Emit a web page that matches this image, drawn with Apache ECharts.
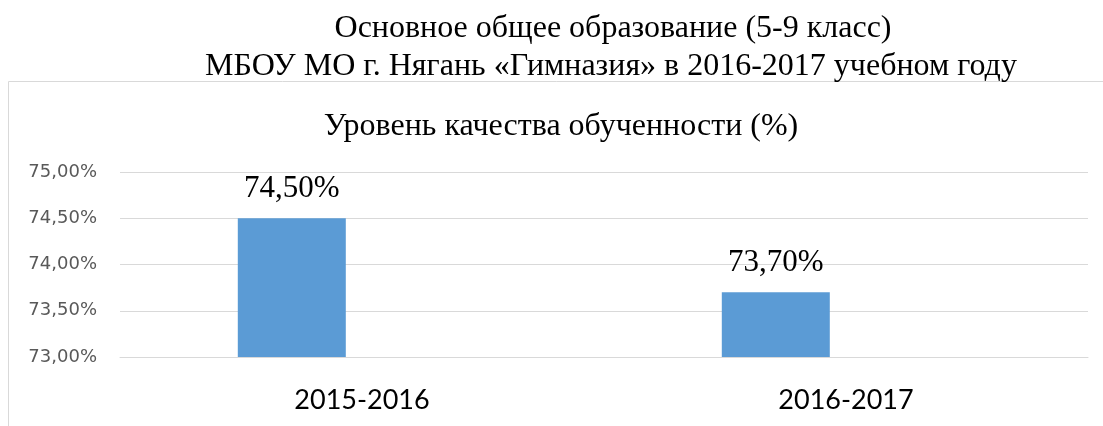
<!DOCTYPE html>
<html>
<head>
<meta charset="utf-8">
<script src="https://cdn.jsdelivr.net/npm/echarts@6/dist/echarts.min.js"></script>
<style>
  html, body { margin: 0; padding: 0; background: #fff; }
  #main { width: 1103px; height: 426px; }
</style>
</head>
<body>
<div id="main"></div>
<script>
var years = ['2015-2016', '2016-2017'];
var quality = [74.5, 73.7];
var emptySeries = [null, null];
var yTicks = {min: 73, max: 75, step: 0.5};

function pct(v) {
    return v.toFixed(2).replace('.', ',') + '%';
}

var chart = echarts.init(document.getElementById('main'));
var serif = '"Liberation Serif", "Times New Roman", serif';

var option = {
    animation: false,
    graphic: [{
        type: 'rect',
        shape: {x: 8.5, y: 81.5, width: 1200, height: 500},
        style: {fill: 'none', stroke: '#d9d9d9', lineWidth: 1},
        z: -1
    }],
    title: [
        {
            text: 'Основное общее образование (5-9 класс)',
            left: 608, top: 5, textAlign: 'center',
            textStyle: {fontFamily: serif, fontSize: 32, fontWeight: 'normal', color: '#000', lineHeight: 38}
        },
        {
            text: 'МБОУ МО г. Нягань «Гимназия» в 2016-2017 учебном году',
            left: 606, top: 43, textAlign: 'center',
            textStyle: {fontFamily: serif, fontSize: 32, fontWeight: 'normal', color: '#000', lineHeight: 38}
        },
        {
            text: 'Уровень качества обученности (%)',
            left: 556, top: 103, textAlign: 'center',
            textStyle: {fontFamily: serif, fontSize: 32, fontWeight: 'normal', color: '#000', lineHeight: 38}
        }
    ],
    grid: {left: 120, right: 15, top: 172, bottom: 69},
    xAxis: {
        type: 'category',
        data: years,
        axisLine: {lineStyle: {color: '#d9d9d9', width: 1}},
        axisTick: {show: false},
        axisLabel: {
            margin: 30,
            color: '#000',
            fontFamily: 'Lato, "Noto Sans", sans-serif',
            fontSize: 27
        }
    },
    yAxis: {
        type: 'value',
        min: yTicks.min,
        max: yTicks.max,
        interval: yTicks.step,
        axisLine: {show: false},
        axisTick: {show: false},
        splitLine: {lineStyle: {color: '#d9d9d9', width: 1}},
        axisLabel: {
            margin: 23,
            color: '#595959',
            fontFamily: '"DejaVu Sans", sans-serif',
            fontSize: 18,
            formatter: pct
        }
    },
    series: [
        {
            name: 'Качество',
            type: 'bar',
            data: quality,
            barWidth: 108,
            barGap: '30%',
            itemStyle: {color: '#5b9bd5'},
            label: {
                show: true,
                position: 'top',
                distance: 14,
                color: '#000',
                fontFamily: serif,
                fontSize: 31,
                formatter: function (p) { return pct(p.value); }
            }
        },
        {
            name: '',
            type: 'bar',
            data: emptySeries,
            barWidth: 108,
            itemStyle: {color: '#ed7d31'}
        }
    ]
};
chart.setOption(option);
</script>
</body>
</html>
